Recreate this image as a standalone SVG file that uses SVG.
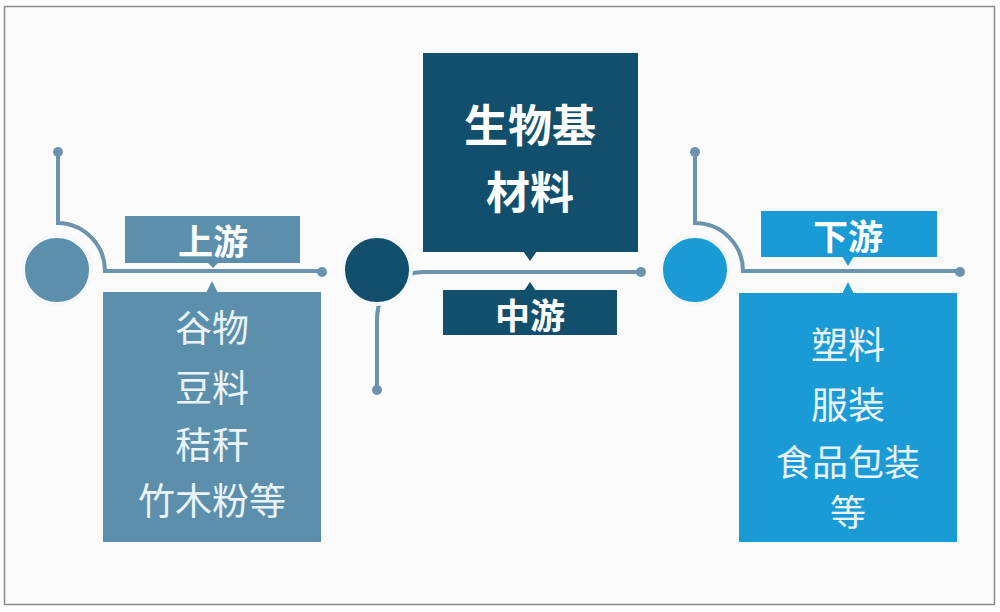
<svg xmlns="http://www.w3.org/2000/svg" width="1000" height="612" viewBox="0 0 1000 612">
<defs>
<style>
.line{fill:none;stroke:#6b93ad;stroke-width:4;stroke-linecap:round}
.dot{fill:#6b93ad}
.up{fill:#5b8fab}
.mid{fill:#124f6c}
.down{fill:#1a9bd6}
.ring{stroke:#f4f8fb;stroke-width:4}
text{font-family:"Noto Sans CJK SC","Noto Sans",sans-serif;text-anchor:middle;dominant-baseline:central}
.lab{fill:#ffffff;font-weight:bold;font-size:35px}
.big{fill:#ffffff;font-weight:bold;font-size:44px}
.item{fill:#eaf3f7;font-size:37px}
.item2{fill:#eaf3f7;font-size:36px}
</style>
</defs>
<rect x="0" y="0" width="1000" height="612" fill="#ffffff"/>
<rect x="4.5" y="6.5" width="990" height="598" fill="#fbfbfb" stroke="#8a8a8a" stroke-width="1.5"/>
<g id="connectors">
<path class="line" d="M58,152 V223 A48,48 0 0 1 105,271 H322"/>
<circle class="dot" cx="58" cy="152" r="5"/>
<circle class="dot" cx="322" cy="272" r="5"/>
<path class="line" d="M641,272 H424 A47,47 0 0 0 377,318 V390"/>
<circle class="dot" cx="641" cy="272" r="5"/>
<circle class="dot" cx="377" cy="390" r="5"/>
<path class="line" d="M695,152 V223 A48,48 0 0 1 743,271 H960"/>
<circle class="dot" cx="695" cy="152" r="5"/>
<circle class="dot" cx="960" cy="272" r="5"/>
</g>
<g id="upstream">
<circle class="up ring" cx="57" cy="270" r="34"/>
<rect class="up" x="125" y="216" width="175" height="47"/>
<path class="up" d="M207,262 L213,268 L219,262 Z"/>
<text class="lab" x="213" y="239">上游</text>
<rect class="up" x="103" y="292" width="218" height="250"/>
<path class="up" d="M206,293 L212,281 L218,293 Z"/>
<text class="item" x="212" y="326">谷物</text>
<text class="item" x="212" y="386">豆料</text>
<text class="item" x="212" y="443">秸秆</text>
<text class="item" x="212" y="499">竹木粉等</text>
</g>
<g id="midstream">
<circle class="mid ring" cx="377" cy="270" r="34"/>
<rect class="mid" x="423" y="53" width="215" height="199"/>
<path class="mid" d="M523,251 L530,261 L537,251 Z"/>
<text class="big" x="530" y="123">生物基</text>
<text class="big" x="530" y="190">材料</text>
<rect class="mid" x="443" y="290" width="174" height="45"/>
<path class="mid" d="M524,291 L530,282 L536,291 Z"/>
<text class="lab" x="530" y="313">中游</text>
</g>
<g id="downstream">
<circle class="down ring" cx="695" cy="270" r="34"/>
<rect class="down" x="761" y="211" width="176" height="46"/>
<path class="down" d="M842,256 L848,266 L854,256 Z"/>
<text class="lab" x="848" y="234">下游</text>
<rect class="down" x="739" y="293" width="218" height="249"/>
<path class="down" d="M842,294 L848,282 L854,294 Z"/>
<text class="item" x="848" y="343">塑料</text>
<text class="item" x="848" y="403">服装</text>
<text class="item2" x="848" y="460">食品包装</text>
<text class="item2" x="848" y="510">等</text>
</g>
</svg>
